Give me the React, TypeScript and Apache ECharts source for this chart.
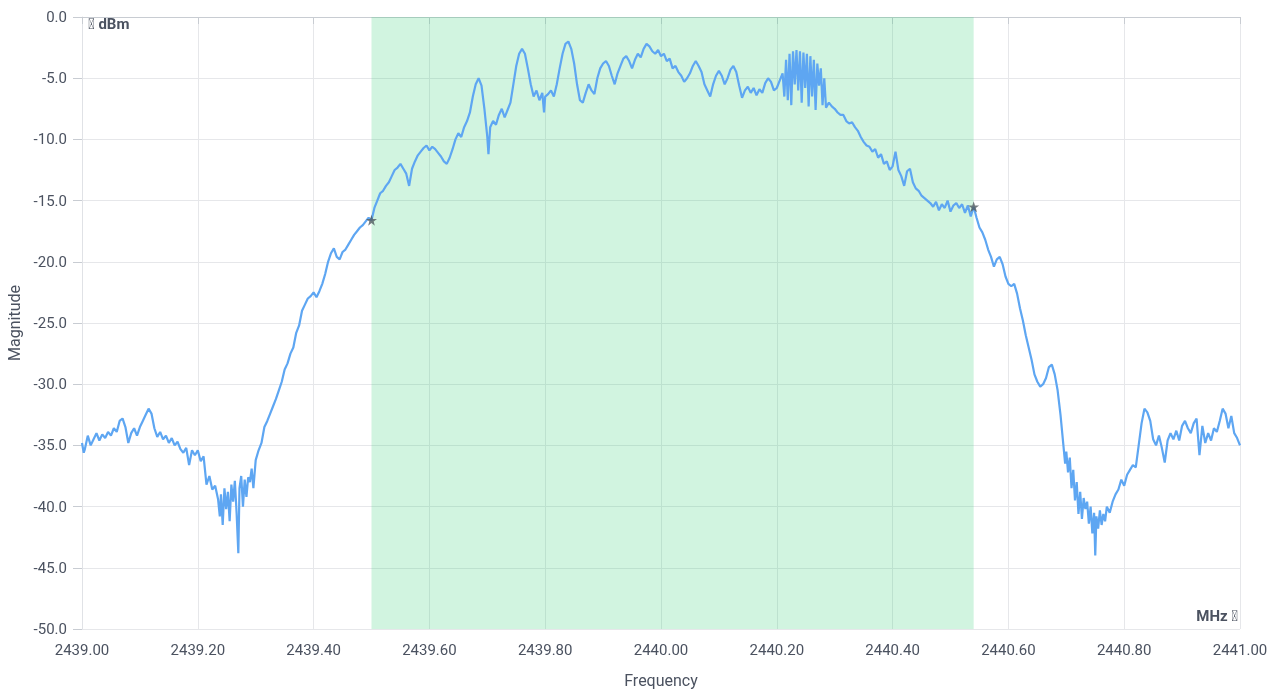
import React, { useEffect, useRef } from "react";
import * as echarts from "echarts";

const xTicks = { min: 2439, max: 2441, interval: 0.2 };
const yTicks = { min: -50, max: 0, interval: 5 };
const bandStart = 2439.5;
const bandEnd = 2440.54;
const markerPoints: [number, number][] = [
  [2439.5, -16.6],
  [2440.54, -15.5],
];

const spectrum: [number, number][] = [
  [2439.000, -34.8], [2439.003, -35.6], [2439.005, -35.3], [2439.010, -34.2], [2439.015, -35.0], [2439.020, -34.5],
  [2439.025, -34.0], [2439.030, -34.6], [2439.035, -34.1], [2439.040, -34.4], [2439.045, -33.9],
  [2439.050, -34.2], [2439.055, -33.6], [2439.060, -33.9], [2439.065, -33.0], [2439.070, -32.8],
  [2439.075, -33.5], [2439.080, -34.8], [2439.085, -34.0], [2439.090, -33.6], [2439.095, -34.2],
  [2439.100, -33.5], [2439.105, -33.0], [2439.110, -32.5], [2439.115, -32.0], [2439.120, -32.4],
  [2439.125, -33.6], [2439.130, -34.3], [2439.135, -33.9], [2439.140, -34.5], [2439.145, -34.2],
  [2439.150, -34.8], [2439.155, -34.4], [2439.160, -35.0], [2439.165, -34.7], [2439.170, -35.3],
  [2439.175, -35.6], [2439.180, -35.2], [2439.185, -36.6], [2439.190, -35.4], [2439.195, -35.8],
  [2439.200, -35.4], [2439.205, -36.3], [2439.210, -35.9], [2439.215, -38.2], [2439.220, -37.5],
  [2439.225, -38.6], [2439.230, -38.3], [2439.235, -39.4], [2439.238, -40.8], [2439.240, -39.0],
  [2439.243, -41.5], [2439.246, -38.5], [2439.249, -40.2], [2439.252, -38.8], [2439.255, -41.2],
  [2439.258, -38.2], [2439.261, -39.6], [2439.264, -37.9], [2439.267, -40.5], [2439.270, -43.8],
  [2439.272, -38.5], [2439.275, -37.5], [2439.278, -40.0], [2439.281, -37.8], [2439.284, -39.2],
  [2439.287, -37.6], [2439.290, -38.0], [2439.293, -36.9], [2439.296, -38.5], [2439.300, -36.2],
  [2439.305, -35.4], [2439.310, -34.8], [2439.315, -33.5], [2439.320, -33.0], [2439.325, -32.4],
  [2439.330, -31.8], [2439.335, -31.2], [2439.340, -30.5], [2439.345, -29.8], [2439.350, -28.8],
  [2439.355, -28.3], [2439.360, -27.5], [2439.365, -27.0], [2439.370, -25.8], [2439.375, -25.2],
  [2439.380, -24.0], [2439.385, -23.5], [2439.390, -23.0], [2439.395, -22.8], [2439.400, -22.5],
  [2439.405, -22.9], [2439.410, -22.4], [2439.415, -21.8], [2439.420, -21.0], [2439.425, -20.0],
  [2439.430, -19.3], [2439.435, -18.9], [2439.440, -19.6], [2439.445, -19.8], [2439.450, -19.2],
  [2439.455, -19.0], [2439.460, -18.6], [2439.465, -18.2], [2439.470, -17.8], [2439.475, -17.5],
  [2439.480, -17.2], [2439.485, -17.0], [2439.490, -16.7], [2439.495, -16.4], [2439.500, -16.6],
  [2439.505, -15.6], [2439.510, -15.0], [2439.515, -14.4], [2439.520, -14.2], [2439.525, -13.8],
  [2439.530, -13.5], [2439.535, -13.0], [2439.540, -12.5], [2439.545, -12.3], [2439.550, -12.0],
  [2439.555, -12.4], [2439.560, -12.8], [2439.565, -13.8], [2439.570, -12.4], [2439.575, -11.8],
  [2439.580, -11.3], [2439.585, -11.0], [2439.590, -10.7], [2439.595, -10.5], [2439.600, -10.9],
  [2439.605, -10.6], [2439.610, -10.8], [2439.615, -11.1], [2439.620, -11.4], [2439.625, -11.8],
  [2439.630, -12.0], [2439.635, -11.5], [2439.640, -10.8], [2439.645, -10.0], [2439.650, -9.5],
  [2439.655, -9.8], [2439.660, -9.0], [2439.665, -8.5], [2439.670, -7.8], [2439.675, -6.5],
  [2439.680, -5.5], [2439.685, -5.0], [2439.690, -5.6], [2439.695, -7.5], [2439.700, -9.8],
  [2439.702, -11.2], [2439.705, -9.0], [2439.710, -8.5], [2439.715, -8.8], [2439.720, -8.0],
  [2439.725, -7.5], [2439.730, -8.2], [2439.735, -7.6], [2439.740, -7.0], [2439.745, -5.5],
  [2439.750, -4.0], [2439.755, -3.0], [2439.760, -2.6], [2439.765, -3.0], [2439.770, -4.2],
  [2439.775, -5.5], [2439.780, -6.5], [2439.785, -6.0], [2439.790, -6.8], [2439.795, -6.2],
  [2439.798, -7.8], [2439.800, -6.5], [2439.805, -6.3], [2439.810, -6.0], [2439.815, -6.5],
  [2439.820, -5.5], [2439.825, -4.2], [2439.830, -3.0], [2439.835, -2.2], [2439.840, -2.0],
  [2439.845, -2.6], [2439.850, -3.8], [2439.855, -5.5], [2439.860, -6.8], [2439.865, -7.0],
  [2439.870, -6.2], [2439.875, -5.5], [2439.880, -6.0], [2439.885, -6.3], [2439.890, -5.0],
  [2439.895, -4.2], [2439.900, -3.8], [2439.905, -3.6], [2439.910, -4.0], [2439.915, -4.8],
  [2439.920, -5.5], [2439.925, -4.6], [2439.930, -4.0], [2439.935, -3.4], [2439.940, -3.2],
  [2439.945, -3.6], [2439.950, -4.2], [2439.955, -3.5], [2439.960, -3.0], [2439.965, -3.3],
  [2439.970, -2.6], [2439.975, -2.2], [2439.980, -2.4], [2439.985, -2.8], [2439.990, -3.0],
  [2439.995, -2.7], [2440.000, -3.2], [2440.005, -3.0], [2440.010, -3.6], [2440.015, -3.4],
  [2440.020, -4.2], [2440.025, -4.0], [2440.030, -4.5], [2440.035, -4.8], [2440.040, -5.3],
  [2440.045, -5.0], [2440.050, -4.6], [2440.055, -4.0], [2440.060, -3.6], [2440.065, -4.0],
  [2440.070, -4.5], [2440.075, -5.5], [2440.080, -6.0], [2440.085, -6.5], [2440.090, -5.5],
  [2440.095, -4.8], [2440.100, -4.4], [2440.105, -4.8], [2440.110, -5.5], [2440.115, -5.0],
  [2440.120, -4.3], [2440.125, -4.0], [2440.130, -4.5], [2440.135, -5.6], [2440.140, -6.6],
  [2440.145, -6.0], [2440.150, -5.7], [2440.155, -6.2], [2440.160, -5.8], [2440.165, -6.4],
  [2440.170, -5.9], [2440.175, -6.2], [2440.180, -5.4], [2440.185, -5.0], [2440.190, -5.3],
  [2440.195, -6.0], [2440.200, -5.8], [2440.205, -5.2], [2440.210, -4.6], [2440.213, -6.5],
  [2440.216, -3.5], [2440.219, -6.8], [2440.222, -3.0], [2440.225, -7.2], [2440.228, -2.8],
  [2440.231, -5.5], [2440.234, -2.7], [2440.237, -6.0], [2440.240, -2.8], [2440.243, -7.0],
  [2440.246, -2.9], [2440.249, -5.8], [2440.252, -3.0], [2440.255, -7.3], [2440.258, -3.2],
  [2440.261, -6.5], [2440.264, -3.5], [2440.267, -7.6], [2440.270, -3.8], [2440.273, -5.6],
  [2440.276, -4.2], [2440.279, -7.2], [2440.282, -5.0], [2440.285, -7.4], [2440.290, -7.0],
  [2440.295, -7.3], [2440.300, -7.5], [2440.305, -7.8], [2440.310, -8.0], [2440.315, -8.0],
  [2440.320, -8.5], [2440.325, -8.7], [2440.330, -8.6], [2440.335, -9.0], [2440.340, -9.3],
  [2440.345, -9.8], [2440.350, -10.2], [2440.355, -10.5], [2440.360, -10.6], [2440.365, -11.0],
  [2440.370, -10.8], [2440.375, -11.5], [2440.380, -11.2], [2440.385, -12.0], [2440.390, -11.8],
  [2440.395, -12.5], [2440.400, -12.2], [2440.405, -11.0], [2440.410, -12.5], [2440.415, -13.0],
  [2440.420, -13.8], [2440.425, -12.6], [2440.430, -12.4], [2440.435, -13.5], [2440.440, -14.0],
  [2440.445, -14.2], [2440.450, -14.6], [2440.455, -14.8], [2440.460, -15.0], [2440.465, -15.2],
  [2440.470, -15.5], [2440.475, -15.1], [2440.480, -15.8], [2440.485, -15.3], [2440.490, -15.6],
  [2440.495, -15.0], [2440.500, -15.9], [2440.505, -15.4], [2440.510, -15.2], [2440.515, -15.6],
  [2440.520, -15.3], [2440.525, -16.0], [2440.530, -15.4], [2440.535, -16.3], [2440.540, -15.5],
  [2440.545, -16.4], [2440.550, -17.2], [2440.555, -17.6], [2440.560, -18.2], [2440.565, -19.0],
  [2440.570, -19.6], [2440.575, -20.4], [2440.580, -19.8], [2440.585, -19.6], [2440.590, -20.2],
  [2440.595, -21.2], [2440.600, -21.8], [2440.605, -22.0], [2440.610, -21.8], [2440.615, -22.6],
  [2440.620, -23.8], [2440.625, -24.8], [2440.630, -26.0], [2440.635, -27.0], [2440.640, -28.0],
  [2440.645, -29.2], [2440.650, -29.8], [2440.655, -30.2], [2440.660, -30.0], [2440.665, -29.5],
  [2440.670, -28.6], [2440.675, -28.4], [2440.680, -29.2], [2440.685, -30.5], [2440.690, -32.5],
  [2440.695, -35.0], [2440.698, -36.5], [2440.700, -35.5], [2440.703, -37.2], [2440.706, -36.0],
  [2440.709, -38.5], [2440.712, -37.0], [2440.715, -39.5], [2440.718, -38.0], [2440.721, -40.6],
  [2440.724, -38.8], [2440.727, -41.0], [2440.730, -39.3], [2440.733, -40.2], [2440.736, -39.6],
  [2440.739, -41.4], [2440.742, -40.0], [2440.745, -42.2], [2440.748, -40.5], [2440.750, -44.0],
  [2440.752, -40.8], [2440.755, -41.8], [2440.758, -40.3], [2440.761, -41.5], [2440.764, -40.6],
  [2440.767, -41.2], [2440.770, -40.0], [2440.775, -40.5], [2440.780, -39.6], [2440.785, -39.0],
  [2440.790, -38.6], [2440.795, -37.8], [2440.800, -38.3], [2440.805, -37.4], [2440.810, -37.0],
  [2440.815, -36.6], [2440.820, -36.8], [2440.825, -35.0], [2440.830, -33.2], [2440.835, -32.0],
  [2440.840, -32.3], [2440.845, -33.0], [2440.850, -34.5], [2440.855, -35.0], [2440.860, -34.2],
  [2440.865, -35.2], [2440.870, -36.4], [2440.875, -34.6], [2440.880, -34.0], [2440.885, -34.5],
  [2440.890, -33.8], [2440.895, -34.6], [2440.900, -33.4], [2440.905, -33.0], [2440.910, -33.6],
  [2440.915, -34.0], [2440.920, -33.2], [2440.925, -32.8], [2440.930, -35.8], [2440.935, -33.4],
  [2440.940, -34.8], [2440.945, -34.0], [2440.950, -34.6], [2440.955, -33.6], [2440.960, -33.9],
  [2440.965, -33.0], [2440.970, -32.0], [2440.975, -32.4], [2440.980, -33.6], [2440.985, -32.6],
  [2440.990, -34.0], [2440.995, -34.4], [2441.000, -35.0],
];

const STAR =
  "path://M50,0 L61.8,35.1 L98.1,35.1 L68.8,56.7 L79.4,91.9 L50,70.3 L20.6,91.9 L31.2,56.7 L1.9,35.1 L38.2,35.1 Z";

const textColor = "#4b5260";
const font = "Roboto, 'Noto Sans', sans-serif";

export default function App() {
  const ref = useRef<HTMLDivElement>(null);
  useEffect(() => {
    if (!ref.current) return;
    const chart = echarts.init(ref.current, undefined, { renderer: "svg" });
    chart.setOption({
      animation: false,
      textStyle: { fontFamily: font },
      grid: {
        left: 82,
        right: 39,
        top: 17,
        bottom: 61,
        containLabel: false,
        outerBoundsMode: "none",
      },
      xAxis: {
        type: "value",
        min: xTicks.min,
        max: xTicks.max,
        interval: xTicks.interval,
        name: "Frequency",
        nameLocation: "middle",
        nameGap: 43,
        nameTextStyle: { color: textColor, fontSize: 16, fontFamily: font },
        axisLine: { show: true, lineStyle: { color: "#c8ccd2" } },
        axisTick: { show: true, length: 7, lineStyle: { color: "#c8ccd2" } },
        axisLabel: {
          color: textColor,
          fontSize: 15,
          fontFamily: font,
          margin: 13,
          formatter: (v: number) => v.toFixed(2),
        },
        splitLine: { show: true, lineStyle: { color: "#e6e7ea" } },
      },
      yAxis: {
        type: "value",
        min: yTicks.min,
        max: yTicks.max,
        interval: yTicks.interval,
        name: "Magnitude",
        nameLocation: "middle",
        nameGap: 58,
        nameTextStyle: { color: textColor, fontSize: 16, fontFamily: font },
        axisLine: { show: true, lineStyle: { color: "#e0e2e6" } },
        axisTick: { show: true, length: 9, lineStyle: { color: "#c8ccd2" } },
        axisLabel: {
          color: textColor,
          fontSize: 15,
          fontFamily: font,
          margin: 15,
          formatter: (v: number) => v.toFixed(1),
        },
        splitLine: { show: true, lineStyle: { color: "#e6e7ea" } },
      },
      series: [
        {
          type: "line",
          data: spectrum,
          showSymbol: false,
          symbol: "none",
          lineStyle: { color: "#5ea6f2", width: 2.2 },
          z: 2,
        },
        {
          type: "line",
          data: [],
          markArea: {
            silent: true,
            itemStyle: { color: "rgba(46,204,113,0.22)" },
            data: [[{ xAxis: bandStart }, { xAxis: bandEnd }]],
          },
          z: 3,
        },
        {
          type: "scatter",
          data: markerPoints,
          symbol: STAR,
          symbolSize: 11,
          itemStyle: { color: "#505a5f" },
          z: 4,
        },
      ],
      graphic: [
        {
          type: "text",
          left: 88,
          top: 16,
          style: {
            text: "\uE8B8 dBm",
            fill: textColor,
            font: "bold 15px Roboto, sans-serif",
          },
        },
        {
          type: "text",
          right: 41,
          top: 608,
          style: {
            text: "MHz \uE8B8",
            fill: textColor,
            font: "bold 15px Roboto, sans-serif",
          },
        },
      ],
    });
    return () => chart.dispose();
  }, []);
  return (
    <div
      ref={ref}
      style={{ position: "fixed", left: 0, top: 0, width: 1279, height: 690 }}
    />
  );
}
